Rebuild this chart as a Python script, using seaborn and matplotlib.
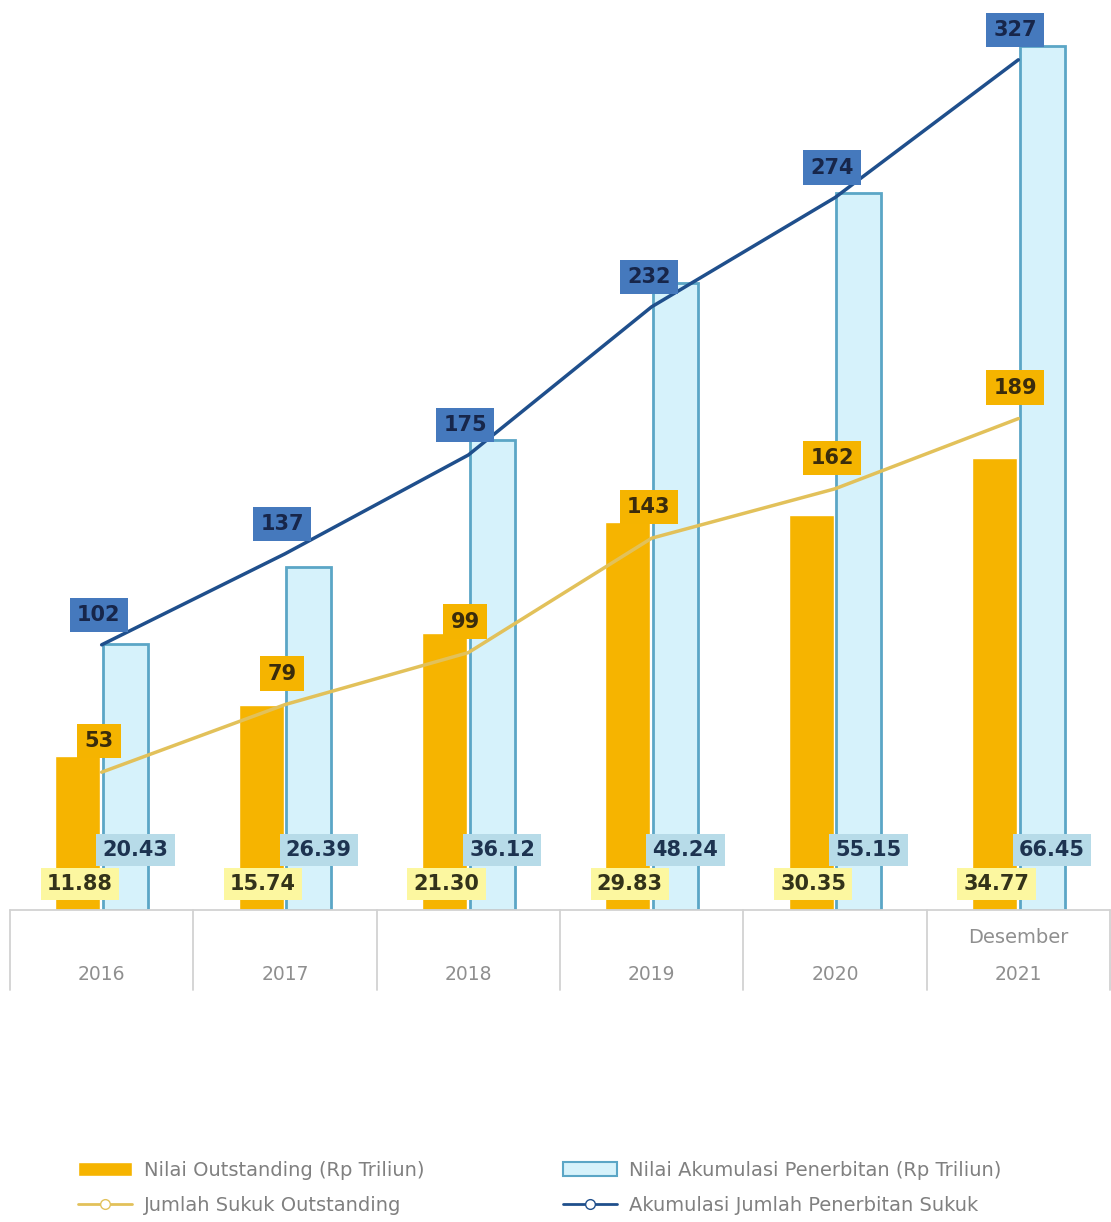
import matplotlib.pyplot as plt
import matplotlib.transforms as mtransforms
from matplotlib.patches import Patch
from matplotlib.lines import Line2D
import numpy as np
import pandas as pd
import seaborn as sns

# Data
years = ['2016', '2017', '2018', '2019', '2020', '2021']
nilai_outstanding = [11.88, 15.74, 21.30, 29.83, 30.35, 34.77]
nilai_akumulasi = [20.43, 26.39, 36.12, 48.24, 55.15, 66.45]
jumlah_outstanding = [53, 79, 99, 143, 162, 189]
jumlah_akumulasi = [102, 137, 175, 232, 274, 327]

bar_names = ['Nilai Outstanding (Rp Triliun)', 'Nilai Akumulasi Penerbitan (Rp Triliun)']
line_names = ['Jumlah Sukuk Outstanding', 'Akumulasi Jumlah Penerbitan Sukuk']

df = pd.DataFrame({
    'tahun': years * 2,
    'nilai': nilai_outstanding + nilai_akumulasi,
    'seri': [bar_names[0]] * len(years) + [bar_names[1]] * len(years),
})

orange = '#f6b400'
light_blue = '#d6f2fb'
blue_edge = '#5ba6c6'
navy = '#1f4f8c'
khaki = '#e2c15a'

sns.set_theme(style='white')
plt.rcParams['font.family'] = ['DejaVu Sans']

fig = plt.figure(figsize=(11.11, 12.22), dpi=100)
ax = fig.add_axes([10 / 1111, 312 / 1222, 1100 / 1111, 910 / 1222])

sns.barplot(data=df, x='tahun', y='nilai', hue='seri', palette=[orange, light_blue],
            width=0.52, gap=0.06, saturation=1, legend=False, ax=ax)
for p in ax.containers[1]:
    p.set_edgecolor(blue_edge)
    p.set_linewidth(2)

ax.set_ylim(0, 70)
ax.set_xlabel('')
ax.set_ylabel('')
ax.set_yticks([])
ax.set_xticks([])
sns.despine(ax=ax, left=True, bottom=True)

# count lines on a second axis
x = np.arange(len(years))
ax2 = ax.twinx()
sns.lineplot(x=x, y=jumlah_akumulasi, color=navy, linewidth=2.5, ax=ax2)
sns.lineplot(x=x, y=jumlah_outstanding, color=khaki, linewidth=2.5, ax=ax2)
ax2.set_ylim(0, 350)
ax2.set_yticks([])
ax2.set_ylabel('')
sns.despine(ax=ax2, left=True, bottom=True, right=True)
ax.set_xlim(-0.5, len(years) - 0.5)

# value labels
lab_kw = dict(textcoords='offset pixels', ha='center', va='center', fontsize=15,
              fontweight='bold')
for i in x:
    ax2.annotate(str(jumlah_akumulasi[i]), (i, jumlah_akumulasi[i]), xytext=(-3, 30),
                 color='#17264a', bbox=dict(boxstyle='square,pad=0.35', fc='#4579bd', ec='none'),
                 **lab_kw)
    ax2.annotate(str(jumlah_outstanding[i]), (i, jumlah_outstanding[i]), xytext=(-3, 31),
                 color='#3a2c0c', bbox=dict(boxstyle='square,pad=0.35', fc='#f5b400', ec='none'),
                 **lab_kw)
    ax2.annotate(f'{nilai_akumulasi[i]:.2f}', (i + 0.13, 0), xycoords=ax.transData,
                 xytext=(10, 60), color='#1d3350',
                 bbox=dict(boxstyle='square,pad=0.3', fc='#b7dbe8', ec='none'), **lab_kw)
    ax2.annotate(f'{nilai_outstanding[i]:.2f}', (i - 0.13, 0), xycoords=ax.transData,
                 xytext=(2, 26), color='#33331a',
                 bbox=dict(boxstyle='square,pad=0.3', fc='#fcf7a0', ec='none'), **lab_kw)

# category table under the plot
ax.axhline(0, color='#d2d2d2', lw=1.3, clip_on=False)
trans = mtransforms.blended_transform_factory(ax.transData, ax.transAxes)
for b in np.arange(-0.5, len(years)):
    ax.plot([b, b], [0, -0.088], transform=trans, color='#d2d2d2', lw=1.3, clip_on=False)
for i, yr in enumerate(years):
    ax.text(i, -0.0714, yr, transform=trans, ha='center', va='center',
            color='#8f8f8f', fontsize=13.5)
ax.text(len(years) - 1, -0.0297, 'Desember', transform=trans, ha='center', va='center',
        color='#8f8f8f', fontsize=14)

# legend
leg_kw = dict(loc='center left', frameon=False, fontsize=14, labelcolor='#808080',
              handlelength=2.8, handletextpad=0.6, labelspacing=0.85, borderpad=0)
fig.legend(handles=[Patch(facecolor=orange),
                    Line2D([], [], color=khaki, lw=2, marker='o', markersize=7,
                           markerfacecolor='white')],
           labels=[bar_names[0], line_names[0]],
           bbox_to_anchor=(68 / 1111, 1 - 1188 / 1222), **leg_kw)
fig.legend(handles=[Patch(facecolor=light_blue, edgecolor=blue_edge, linewidth=1.5),
                    Line2D([], [], color=navy, lw=2, marker='o', markersize=7,
                           markerfacecolor='white')],
           labels=[bar_names[1], line_names[1]],
           bbox_to_anchor=(553 / 1111, 1 - 1188 / 1222), **leg_kw)

fig.savefig('out.png', dpi=100)
